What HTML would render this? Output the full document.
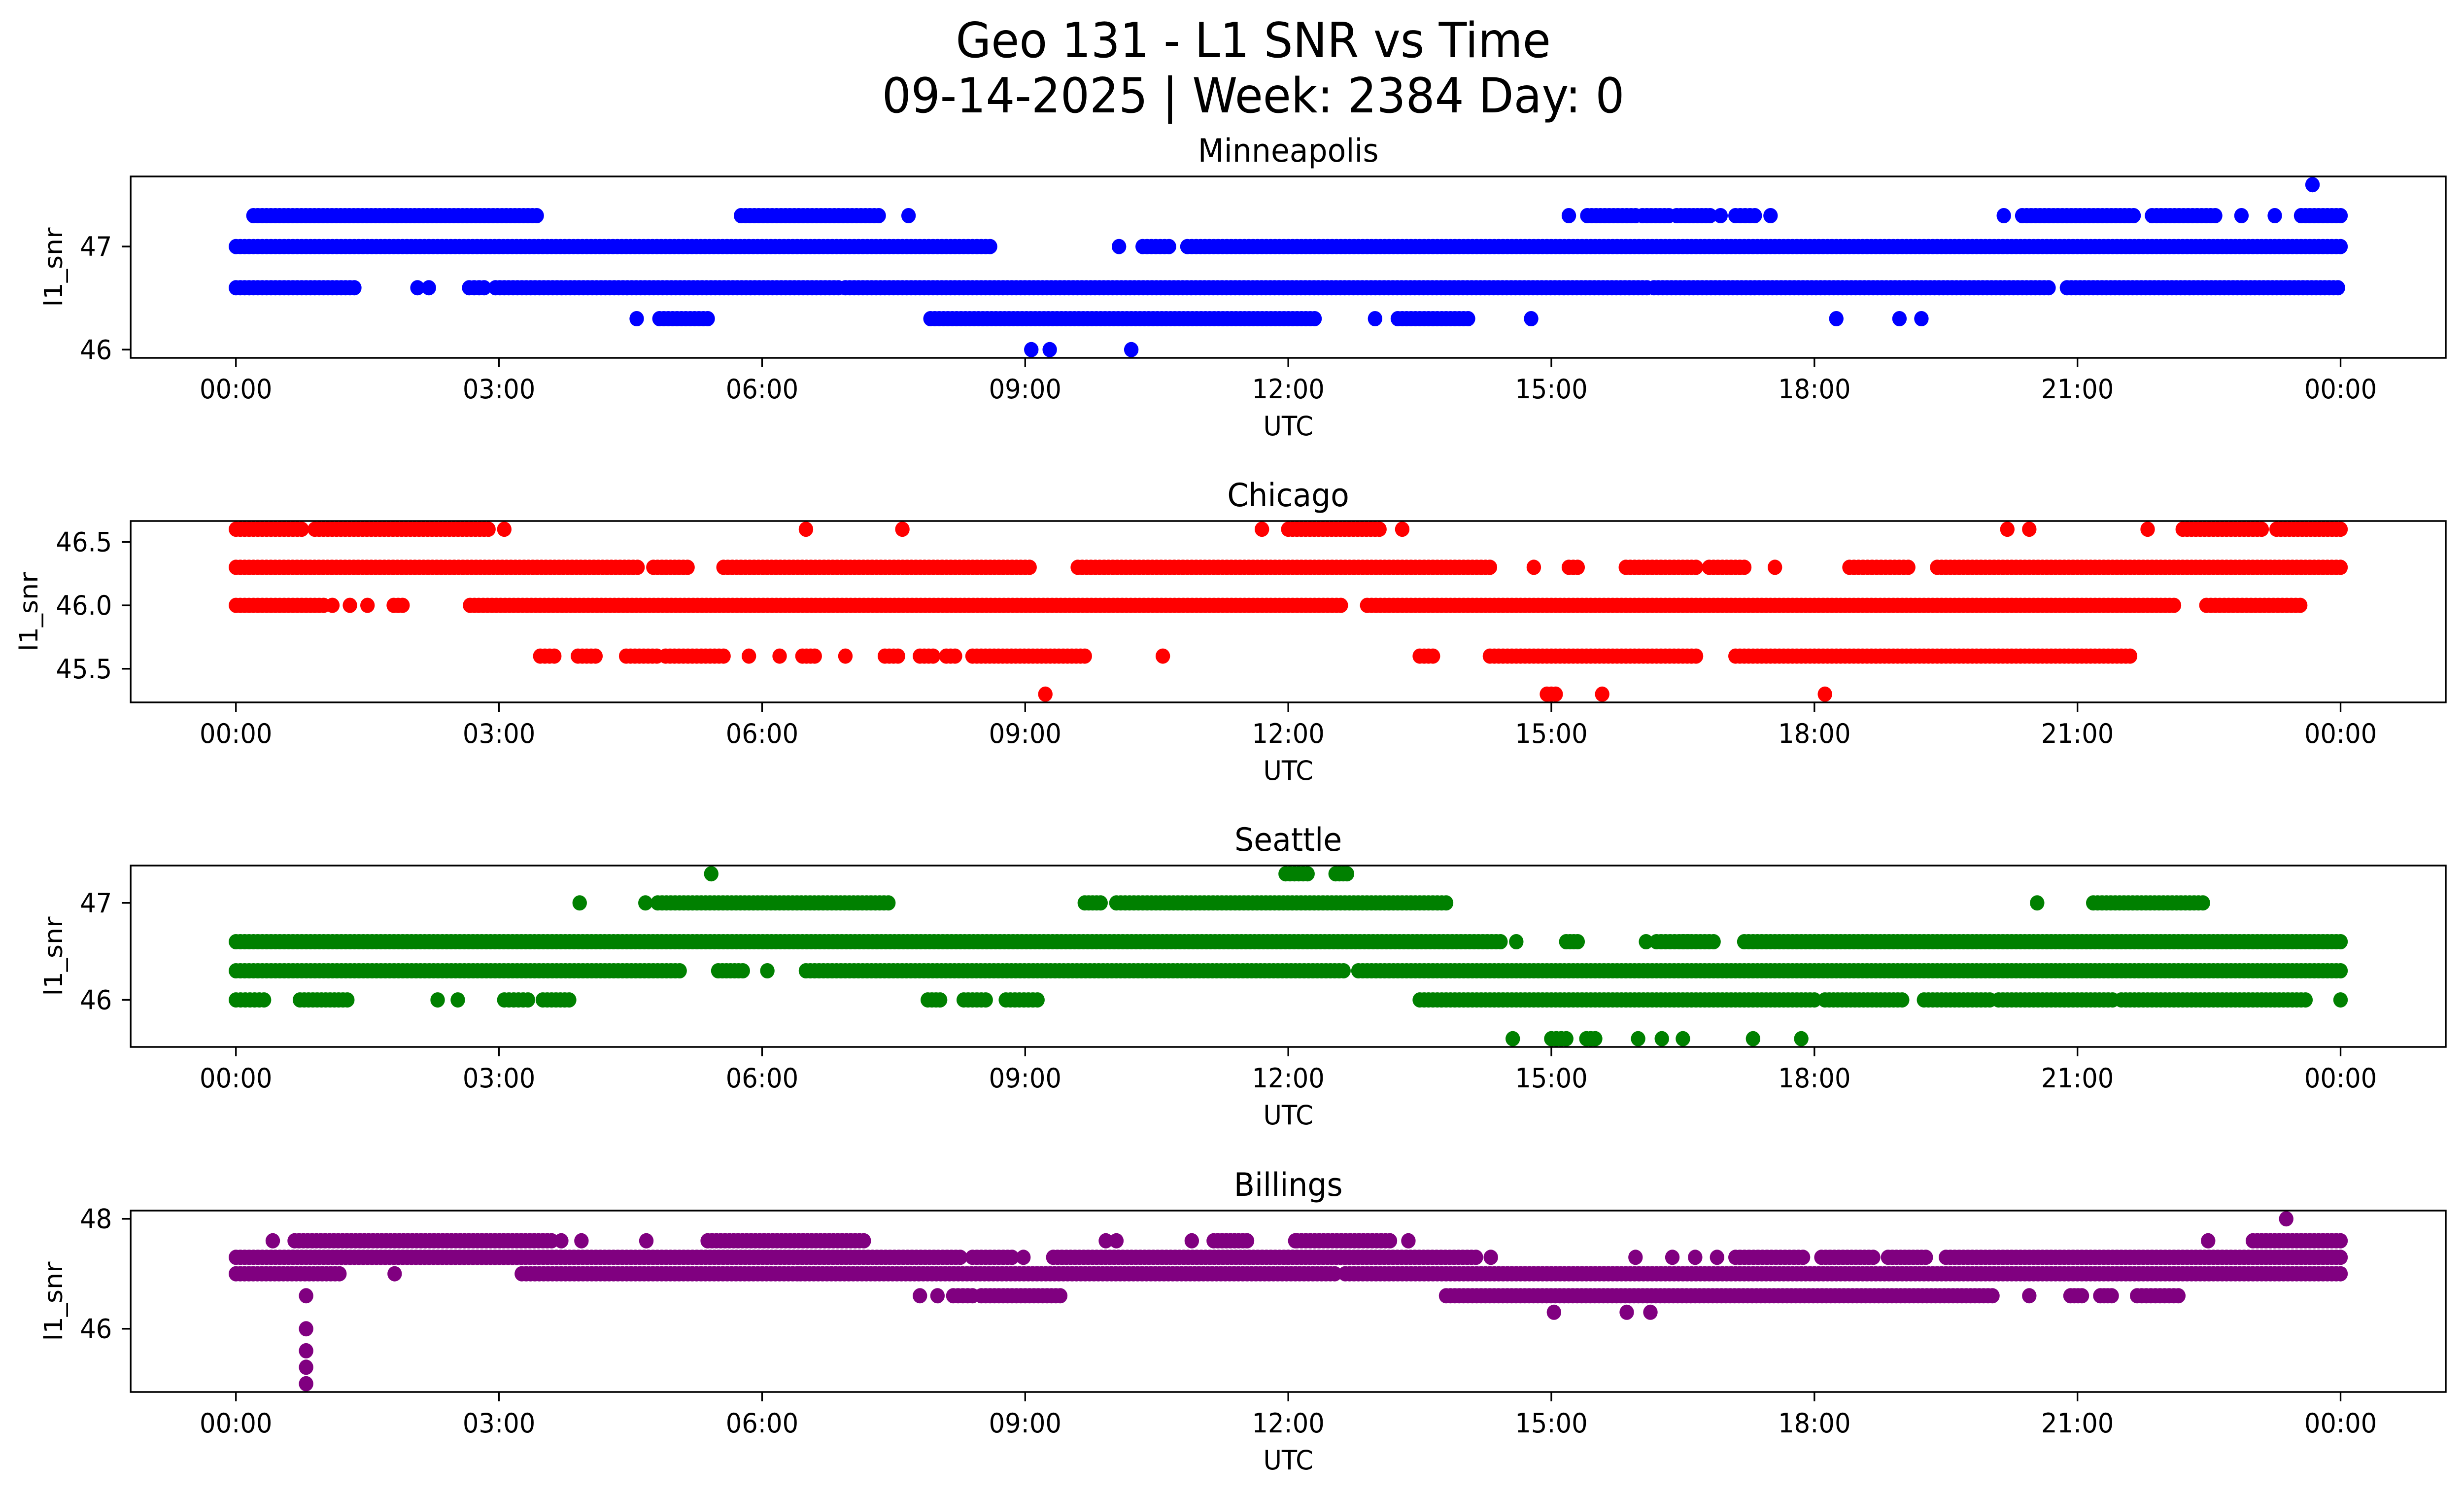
<!DOCTYPE html>
<html><head><meta charset="utf-8"><style>
html,body{margin:0;padding:0;background:#fff;overflow:hidden;width:100%;height:100%;}
svg{display:block;font-family:"DejaVu Sans","Liberation Sans",sans-serif;width:100vw;height:100vh;}
</style></head><body>
<svg id="chart" viewBox="0 0 5279 3033" preserveAspectRatio="none" xmlns="http://www.w3.org/2000/svg">
<rect width="5279" height="3033" fill="#fff"/>
<text x="2685" y="116" font-size="98" text-anchor="middle">Geo 131 - L1 SNR vs Time</text>
<text x="2685" y="228" font-size="98" text-anchor="middle">09-14-2025 | Week: 2384 Day: 0</text>
</svg>
<script>
// Shared axis data
const xTickHours = [0,3,6,9,12,15,18,21,24];
const xTickLabels = ["00:00","03:00","06:00","09:00","12:00","15:00","18:00","21:00","00:00"];

// Minneapolis runs: level, start hour, end hour
const minLevel = [47.3,47.3,47.3, 47.0,47.0,47.0,47.0, 47.3,47.3,47.3,47.3,47.3,47.3,47.3,47.3,47.3,47.3,47.3,47.3,47.3,47.6,
  46.6,46.6,46.6,46.6,46.6,46.6,46.6,46.6, 46.3,46.3,46.3,46.3,46.3,46.3,46.3,46.3,46.3, 46.0,46.0,46.0];
const minStart = [0.2,5.76,7.67, 0.0,10.07,10.34,10.85, 15.2,15.41,16.04,16.43,16.93,17.1,17.5,20.16,20.37,21.85,22.87,23.25,23.55,23.68,
  0.0,2.07,2.2,2.66,2.96,6.95,16.17,20.88, 4.57,4.83,7.92,12.99,13.25,14.77,18.25,18.97,19.22, 9.07,9.28,10.21];
const minEnd = [3.43,7.33,7.67, 8.6,10.07,10.64,24.0, 15.2,15.96,16.34,16.81,16.93,17.32,17.5,20.16,21.64,22.57,22.87,23.25,24.0,23.68,
  1.35,2.07,2.2,2.83,6.87,16.09,20.67,23.97, 4.57,5.38,12.3,12.99,14.05,14.77,18.25,18.97,19.22, 9.07,9.28,10.21];

// Chicago runs
const chiLevel = [46.6,46.6,46.6,46.6,46.6,46.6,46.6,46.6,46.6,46.6,46.6,46.6,46.6,
  46.3,46.3,46.3,46.3,46.3,46.3,46.3,46.3,46.3,46.3,46.3,
  46.0,46.0,46.0,46.0,46.0,46.0,46.0,46.0,
  45.6,45.6,45.6,45.6,45.6,45.6,45.6,45.6,45.6,45.6,45.6,45.6,45.6,45.6,45.6,45.6,
  45.3,45.3,45.3,45.3];
const chiStart = [0.0,0.9,3.06,6.5,7.6,11.7,12.0,13.3,20.2,20.45,21.8,22.2,23.27,
  0.0,4.76,5.56,9.6,14.8,15.2,15.85,16.8,17.55,18.4,19.4,
  0.0,1.1,1.3,1.5,1.8,2.67,12.9,22.47,
  3.47,3.9,4.45,4.9,5.85,6.2,6.46,6.95,7.4,7.8,8.1,8.4,10.57,13.5,14.3,17.1,
  9.23,14.95,15.58,18.12];
const chiEnd = [0.75,2.88,3.06,6.5,7.6,11.7,13.04,13.3,20.2,20.45,21.8,23.1,24.0,
  4.58,5.15,9.05,14.3,14.8,15.3,16.65,17.2,17.55,19.07,24.0,
  1.0,1.1,1.3,1.5,1.9,12.6,22.1,23.54,
  3.63,4.1,4.8,5.56,5.85,6.2,6.6,6.95,7.55,7.95,8.2,9.68,10.57,13.65,16.65,21.6,
  9.23,15.05,15.58,18.12];

// Seattle runs
const seaLevel = [47.3,47.3,47.3, 47.0,47.0,47.0,47.0,47.0,47.0,47.0,
  46.6,46.6,46.6,46.6,46.6,46.6,46.6, 46.3,46.3,46.3,46.3,46.3,
  46.0,46.0,46.0,46.0,46.0,46.0,46.0,46.0,46.0,46.0,46.0,46.0,46.0,46.0,46.0,
  45.6,45.6,45.6,45.6,45.6,45.6,45.6,45.6];
const seaStart = [5.42,11.97,12.54, 3.92,4.67,4.81,9.68,10.04,20.54,21.18,
  0.0,14.6,15.17,16.08,16.2,16.5,17.2, 0.0,5.5,6.06,6.5,12.8,
  0.0,0.73,2.3,2.53,3.06,3.5,7.89,8.3,8.78,13.5,18.12,19.25,20.1,21.5,24.0,
  14.56,15.0,15.4,15.99,16.26,16.5,17.3,17.85];
const seaEnd = [5.42,12.22,12.67, 3.92,4.67,7.44,9.86,13.8,20.54,22.43,
  14.42,14.6,15.3,16.08,16.56,16.85,24.0, 5.06,5.78,6.06,12.63,24.0,
  0.32,1.27,2.3,2.53,3.33,3.8,8.03,8.55,9.14,18.0,19.0,20.0,21.4,23.6,24.0,
  14.56,15.17,15.5,15.99,16.26,16.5,17.3,17.85];

// Billings runs
const bilLevel = [48.0,
  47.6,47.6,47.6,47.6,47.6,47.6,47.6,47.6,47.6,47.6,47.6,47.6,47.6,47.6,47.6,
  47.3,47.3,47.3,47.3,47.3,47.3,47.3,47.3,47.3,47.3,47.3,47.3,47.3,47.3,
  47.0,47.0,47.0,47.0,47.0,
  46.6,46.6,46.6,46.6,46.6,46.6,46.6,46.6,46.6,46.6,
  46.3,46.3,46.3, 46.0,45.6,45.3,45.0];
const bilStart = [23.38,
  0.42,0.67,3.71,3.94,4.68,5.38,9.92,10.04,10.9,11.15,12.1,13.37,22.49,23.0,12.08,
  0.0,8.4,8.98,9.32,14.31,15.96,16.38,16.64,16.89,17.1,18.08,18.84,19.5,12.0,
  0.0,1.81,3.26,6.44,12.65,
  0.8,7.8,8.0,8.18,8.5,13.8,20.45,20.92,21.26,21.68,
  15.03,15.86,16.13, 0.8,0.8,0.8,0.8];
const bilEnd = [23.38,
  0.42,3.6,3.71,3.94,4.68,7.16,9.92,10.04,10.9,11.53,13.16,13.37,22.49,24.0,12.08,
  8.26,8.85,8.98,12.0,14.31,15.96,16.38,16.64,16.89,17.87,18.67,19.27,24.0,14.14,
  1.18,1.81,6.4,12.53,24.0,
  0.8,7.8,8.0,8.4,9.4,20.03,20.45,21.05,21.39,22.15,
  15.03,15.86,16.13, 0.8,0.8,0.8,0.8];

// Y ticks per panel
const minYTicks = [46,47]; const minYLabels = ["46","47"];
const chiYTicks = [45.5,46.0,46.5]; const chiYLabels = ["45.5","46.0","46.5"];
const seaYTicks = [46,47]; const seaYLabels = ["46","47"];
const bilYTicks = [46,48]; const bilYLabels = ["46","48"];

const NS = "http://www.w3.org/2000/svg";
const svg = document.getElementById('chart');
function mk(tag, attrs, parent){
  const e = document.createElementNS(NS, tag);
  for (const k in attrs) e.setAttribute(k, attrs[k]);
  (parent||svg).appendChild(e);
  return e;
}

const panels = [
  {key:'minneapolis', title:'Minneapolis', color:'#0000ff', top:358, lvl:minLevel, st:minStart, en:minEnd, yt:minYTicks, yl:minYLabels, ylabX:118},
  {key:'chicago', title:'Chicago', color:'#ff0000', top:1057, lvl:chiLevel, st:chiStart, en:chiEnd, yt:chiYTicks, yl:chiYLabels, ylabX:65},
  {key:'seattle', title:'Seattle', color:'#008000', top:1756, lvl:seaLevel, st:seaStart, en:seaEnd, yt:seaYTicks, yl:seaYLabels, ylabX:118},
  {key:'billings', title:'Billings', color:'#800080', top:2456, lvl:bilLevel, st:bilStart, en:bilEnd, yt:bilYTicks, yl:bilYLabels, ylabX:118}
];

const L = 280, R = 5240, H = 368;
const xMin = -1.2, xMax = 25.2;
function xScale(h){ return L + (h - xMin) / (xMax - xMin) * (R - L); }

panels.forEach(p => {
  const g = mk('g', {});
  
  
  const vals = p.lvl;
  let lo = Math.min(...vals), hi = Math.max(...vals);
  const m = (hi - lo) * 0.05; lo -= m; hi += m;
  const top = p.top, bot = p.top + H;
  const yScale = v => bot - (v - lo) / (hi - lo) * H;

  const dg = mk('g', {fill: p.color}, g);
  
  
  for (let i = 0; i < vals.length; i++) {
    const s = p.st[i], e = p.en[i];
    const n = Math.max(1, Math.round((e - s) / 0.05));
    for (let k = 0; k <= n; k++) {
      const h = (e === s) ? s : s + (e - s) * k / n;
      mk('circle', {cx: xScale(h).toFixed(1), cy: yScale(vals[i]).toFixed(1), r: 15.5}, dg);
      if (e === s) break;
    }
  }

  const fr = mk('rect', {x:L, y:top, width:R-L, height:H, fill:'none', stroke:'#000', 'stroke-width':3.5}, g);
  
  

  xTickHours.forEach((h, i) => {
    const x = xScale(h);
    mk('line', {x1:x, y1:bot, x2:x, y2:bot+19, stroke:'#000', 'stroke-width':3.5}, g);
    const t = mk('text', {x:x, y:bot+82, 'font-size':54, 'text-anchor':'middle'}, g);
    
    
    t.textContent = xTickLabels[i];
  });
  p.yt.forEach((v, i) => {
    const y = yScale(v);
    mk('line', {x1:L-19, y1:y, x2:L, y2:y, stroke:'#000', 'stroke-width':3.5}, g);
    const t = mk('text', {x:L-40, y:y+19, 'font-size':54, 'text-anchor':'end'}, g);
    
    
    t.textContent = p.yl[i];
  });
  const xl = mk('text', {x:(L+R)/2, y:bot+157, 'font-size':54, 'text-anchor':'middle'}, g);
  
  
  xl.textContent = 'UTC';
  const cy = top + H/2;
  const yl = mk('text', {x:p.ylabX, y:cy, 'font-size':54, 'text-anchor':'middle', transform:'rotate(-90 '+p.ylabX+' '+cy+')', 'dominant-baseline':'middle'}, g);
  
  
  yl.textContent = 'l1_snr';
  const tt = mk('text', {x:(L+R)/2, y:top-30, 'font-size':65, 'text-anchor':'middle'}, g);
  
  
  tt.textContent = p.title;
});
</script>
</body></html>
